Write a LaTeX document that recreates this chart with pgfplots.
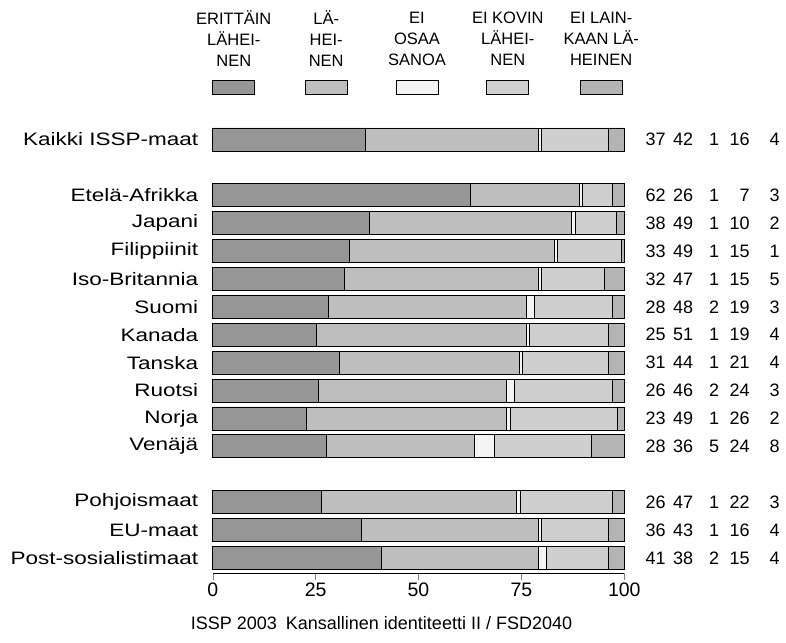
\documentclass[border=0pt]{standalone}
\usepackage{fontspec}
\setmainfont{Liberation Sans}
\newfontfamily\widefont[FakeStretch=1.25]{Liberation Sans}
\usepackage{pgfplots}
\pgfplotsset{compat=1.18}
\usepackage{pgfplotstable}

\definecolor{c1}{HTML}{969696}
\definecolor{c2}{HTML}{BEBEBE}
\definecolor{c3}{HTML}{F4F4F4}
\definecolor{c4}{HTML}{CFCFCF}
\definecolor{c5}{HTML}{B4B4B4}

% y: row position from the bottom; a..e bar lengths; ra..re printed values
\pgfplotstableread{
y  a    b    c   d    e   ra rb rc rd re
15 37.2 41.8 0.9 16.2 3.9 37 42 1 16 4
13 62.7 26.4 0.8 7.3  2.8 62 26 1 7  3
12 38.0 49.1 0.9 10.0 2.0 38 49 1 10 2
11 33.3 49.7 0.8 15.4 0.8 33 49 1 15 1
10 32.0 47.2 0.7 15.2 4.9 32 47 1 15 5
9  28.1 48.0 2.0 19.1 2.8 28 48 2 19 3
8  25.1 51.0 0.8 19.2 3.9 25 51 1 19 4
7  30.8 43.6 0.9 20.8 3.9 31 44 1 21 4
6  25.7 45.7 1.9 23.9 2.8 26 46 2 24 3
5  22.7 48.7 0.8 26.0 1.8 23 49 1 26 2
4  27.7 35.9 4.9 23.6 7.9 28 36 5 24 8
2  26.3 47.5 0.9 22.4 2.9 26 47 1 22 3
1  36.0 43.1 0.8 16.2 3.9 36 43 1 16 4
0  40.9 38.2 1.9 15.1 3.9 41 38 2 15 4
}\data

\newcommand{\lblfont}{\widefont\fontsize{18bp}{21bp}\selectfont}
\newcommand{\numfont}{\fontsize{18bp}{21bp}\selectfont}
\newcommand{\tickfont}{\fontsize{19.5bp}{21bp}\selectfont}
\newcommand{\legfont}{\fontsize{16.5bp}{21bp}\selectfont}

\pgfplotsset{
  base/.style={
    at={(0,0)}, anchor=south west, scale only axis,
    width=411.6bp, height=447.2bp,
    xmin=0, xmax=100, ymin=-0.53, ymax=15.5,
    clip=false,
  },
  numcol/.style={draw=none, nodes near coords, point meta=explicit symbolic},
}

\begin{document}
\begin{tikzpicture}
\useasboundingbox (-212.7bp,-70.3bp) rectangle (573.3bp,572.7bp);
\begin{axis}[
  base,
  xbar stacked, bar width=23bp,
  axis x line*=bottom, axis y line*=left,
  y axis line style={draw=none},
  xtick={0,25,50,75,100},
  tick align=outside, major tick length=7bp,
  ytick={15,13,12,11,10,9,8,7,6,5,4,2,1,0},
  yticklabels={Kaikki ISSP-maat,Etelä-Afrikka,Japani,Filippiinit,Iso-Britannia,
    Suomi,Kanada,Tanska,Ruotsi,Norja,Venäjä,Pohjoismaat,EU-maat,Post-sosialistimaat},
  ytick style={draw=none},
  yticklabel style={font=\lblfont, xshift=-4bp},
  xticklabel style={font=\tickfont},
  /pgf/number format/assume math mode=true,
  every axis plot/.append style={draw=black, line width=0.7bp},
]
\addplot[fill=c1] table[x=a, y=y] {\data};
\addplot[fill=c2] table[x=b, y=y] {\data};
\addplot[fill=c3] table[x=c, y=y] {\data};
\addplot[fill=c4] table[x=d, y=y] {\data};
\addplot[fill=c5] table[x=e, y=y] {\data};
\end{axis}

\begin{axis}[
  base, hide axis,
  every node near coord/.style={anchor=east, font=\numfont, inner sep=0pt},
]
\addplot[numcol] table[x expr=110.1, y=y, meta=ra] {\data};
\addplot[numcol] table[x expr=116.8, y=y, meta=rb] {\data};
\addplot[numcol] table[x expr=123.1, y=y, meta=rc] {\data};
\addplot[numcol] table[x expr=130.5, y=y, meta=rd] {\data};
\addplot[numcol] table[x expr=137.8, y=y, meta=re] {\data};
\end{axis}

% legend
\foreach \xc/\col/\txt in {21.1/c1/{ERITTÄIN\\LÄHEI-\\NEN},
    113.5/c2/{LÄ-\\HEI-\\NEN},
    204.3/c3/{EI\\OSAA\\SANOA},
    295.1/c4/{EI KOVIN\\LÄHEI-\\NEN},
    388.5/c5/{EI LAIN-\\KAAN LÄ-\\HEINEN}} {
  \node[font=\legfont, align=center, inner sep=0pt] at (\xc bp,533.7bp) {\txt};
  \draw[fill=\col, line width=0.7bp] (\xc bp-21bp,478.4bp) rectangle (\xc bp+21bp,492.7bp);
}

\node[font=\numfont, inner sep=0pt] at (168.8bp,-50.3bp) {ISSP 2003\enspace Kansallinen identiteetti II / FSD2040};
\end{tikzpicture}
\end{document}
